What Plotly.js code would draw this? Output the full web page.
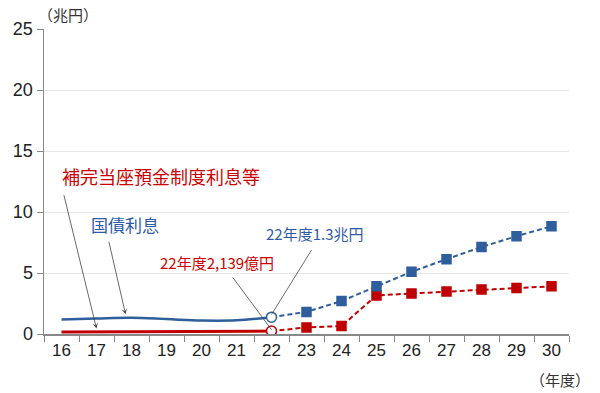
<!DOCTYPE html>
<html><head><meta charset="utf-8">
<script src="https://cdn.plot.ly/plotly-3.0.1.min.js"></script>
<style>html,body{margin:0;padding:0;background:#fff}#c{width:600px;height:393px}</style>
</head><body><div id="c"></div>
<script>
const years = ['16','17','18','19','20','21','22','23','24','25','26','27','28','29','30'];
const histYears = ['16','17','18','19','20','21','22'];
const projYears = ['22','23','24','25','26','27','28','29','30'];
const bondHist = [1.19, 1.27, 1.33, 1.22, 1.10, 1.12, 1.38];
const reserveHist = [0.17, 0.18, 0.18, 0.19, 0.20, 0.22, 0.24];
const bondProj = [1.38, 1.81, 2.70, 3.91, 5.10, 6.13, 7.13, 8.02, 8.83];
const reserveProj = [0.24, 0.54, 0.65, 3.16, 3.32, 3.48, 3.65, 3.78, 3.91];
const yTicks = [0, 5, 10, 15, 20, 25];

const BLUE = '#2E5E9C', RED = '#C00000';
const NUM = '"Liberation Sans Narrow", "Liberation Sans", Arial, sans-serif';
const JP = '"Noto Sans CJK JP", sans-serif';

function projMarker(color){
  return {
    symbol: projYears.map((_, i) => i === 0 ? 'circle' : 'square'),
    size: projYears.map((_, i) => i === 0 ? 10 : 9),
    color: projYears.map((_, i) => i === 0 ? '#ffffff' : color),
    opacity: 1,
    line: {color: color, width: 1.5}
  };
}

const traces = [
  {x: histYears, y: reserveHist, mode: 'lines', line: {color: RED, width: 3}, hoverinfo: 'skip'},
  {x: histYears, y: bondHist, mode: 'lines', line: {color: BLUE, width: 2.5, shape: 'spline'}, hoverinfo: 'skip'},
  {x: projYears, y: reserveProj, mode: 'lines+markers', line: {color: RED, width: 2, dash: '5px,3px'}, marker: projMarker(RED), hoverinfo: 'skip'},
  {x: projYears, y: bondProj, mode: 'lines+markers', line: {color: BLUE, width: 2, dash: '5px,3px'}, marker: projMarker(BLUE), hoverinfo: 'skip'}
];

const L = 44, R = 31, T = 29, B = 59, W = 600, H = 393;
const pw = W - L - R, ph = H - T - B;
const px = v => (v - L) / pw;
const py = v => 1 - (v - T) / ph;
const idx = y => years.indexOf(y);

const arrowLine = {showarrow: true, arrowcolor: '#444', arrowwidth: 0.8, text: '', xref: 'x', yref: 'y', axref: 'pixel', ayref: 'pixel'};
const label = (x, y, text, size, color) => ({xref: 'paper', yref: 'paper', x: px(x), y: py(y), text: text, showarrow: false, xanchor: 'center', yanchor: 'middle', font: {family: JP, size: size, color: color}});
const annotations = [
  {xref: 'paper', yref: 'paper', x: px(36), y: py(15), text: '（兆円）', showarrow: false, xanchor: 'left', yanchor: 'middle', font: {family: JP, size: 15, color: '#333'}},
  {xref: 'paper', yref: 'paper', x: px(592), y: py(380), text: '（年度）', showarrow: false, xanchor: 'right', yanchor: 'middle', font: {family: JP, size: 15, color: '#333'}},
  label(161, 176, '補完当座預金制度利息等', 18, '#CC0000'),
  label(125, 224, '国債利息', 17, '#2F5AA8'),
  label(314, 233, '22年度1.3兆円', 15, '#2F5AA8'),
  label(217, 262, '22年度2,139億円', 15, '#CC0000'),
  Object.assign({x: idx('17'), y: 0.45, ax: -33, ay: -135, arrowhead: 3, arrowsize: 1.2}, arrowLine),
  Object.assign({x: idx('18') - 0.17, y: 1.62, ax: -17, ay: -74, arrowhead: 3, arrowsize: 1.2}, arrowLine),
  Object.assign({x: idx('22'), y: 1.6, ax: 41, ay: -66, arrowhead: 0}, arrowLine),
  Object.assign({x: idx('22'), y: 0.35, ax: -40, ay: -54, arrowhead: 0}, arrowLine)
];

const layout = {
  width: W, height: H,
  margin: {l: L, r: R, t: T, b: B},
  paper_bgcolor: '#fff', plot_bgcolor: '#fff',
  showlegend: false,
  xaxis: {
    type: 'category', categoryarray: years, categoryorder: 'array',
    range: [-0.5, 14.5], tickson: 'boundaries', ticks: 'outside', ticklen: 6,
    tickcolor: '#888', showline: true, linecolor: '#888', linewidth: 1.5,
    showgrid: false, zeroline: false, fixedrange: true,
    tickfont: {family: NUM, size: 17, color: '#222'}
  },
  yaxis: {
    range: [0, 25], tickvals: yTicks, ticks: 'outside', ticklen: 6, tickcolor: '#888',
    showline: true, linecolor: '#888', linewidth: 1.5,
    showgrid: true, gridcolor: '#e6e6e6', gridwidth: 1, zeroline: false, fixedrange: true,
    tickfont: {family: NUM, size: 18, color: '#222'}
  },
  annotations: annotations
};

Plotly.newPlot('c', traces, layout, {staticPlot: true, displayModeBar: false});
</script>
</body></html>
